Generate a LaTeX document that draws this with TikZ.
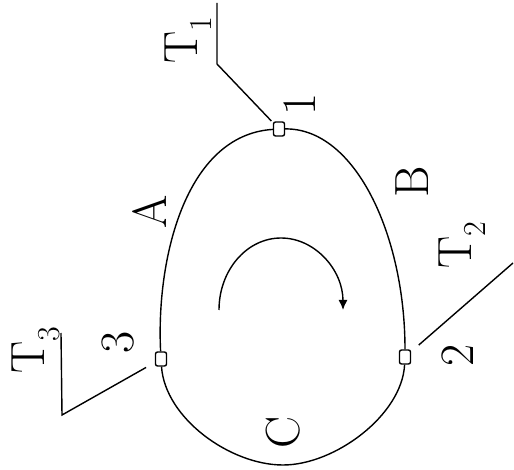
\documentclass[tikz,border=0pt]{standalone}
\usetikzlibrary{arrows.meta}

\newcommand{\lbl}[2]{#1\raisebox{-0.3em}{\fontsize{32}{32}\selectfont #2}}

\begin{document}
\begin{tikzpicture}[x=1pt,y=-1pt,line width=1.4pt,
  port/.style={draw,fill=white,rounded corners=2pt,minimum width=11pt,minimum height=14pt,inner sep=0pt},
  txt/.style={rotate=90,font=\fontsize{48}{48}\selectfont,inner sep=0pt}]
\useasboundingbox (0,0) rectangle (514,470);
% loop and its three points
\node[port] (n1) at (279,129) {};
\node[port] (n2) at (405,357) {};
\node[port] (n3) at (161,359) {};
\draw (n3) .. controls (156,260) and (185,135) .. (n1);
\draw (n1) .. controls (355,128) and (405,235) .. (n2);
\draw (n2) .. controls (402,415) and (335,465) .. (283,465)
           .. controls (230,465) and (165,418) .. (n3);

% direction of circulation
\draw[-{Latex[length=10pt,width=9pt]}] (219,310) arc[start angle=180,end angle=360,x radius=62,y radius=72];

% leads
\coordinate (t1a) at (217,64);
\coordinate (t1b) at (217,3);
\coordinate (t2a) at (513,263);
\coordinate (t3a) at (62,415);
\coordinate (t3b) at (61,333);
\draw[shorten <=2pt] (n1) -- (t1a) -- (t1b);
\draw[shorten <=10pt] (n2) -- (t2a);
\draw[shorten <=10pt] (n3) -- (t3a) -- (t3b);

% labels
\node[txt] (p1) at (300,104) {1};
\node[txt] (p2) at (458,355) {2};
\node[txt] (p3) at (118,342) {3};
\node[txt] (la) at (150,212) {A};
\node[txt] (lb) at (412,182) {B};
\node[txt] (lc) at (283,432) {C};
\node[txt] (lt1) at (188,40) {\lbl{T}{1}};
\node[txt] (lt2) at (462,245) {\lbl{T}{2}};
\node[txt] (lt3) at (36,350) {\lbl{T}{3}};
\end{tikzpicture}
\end{document}
